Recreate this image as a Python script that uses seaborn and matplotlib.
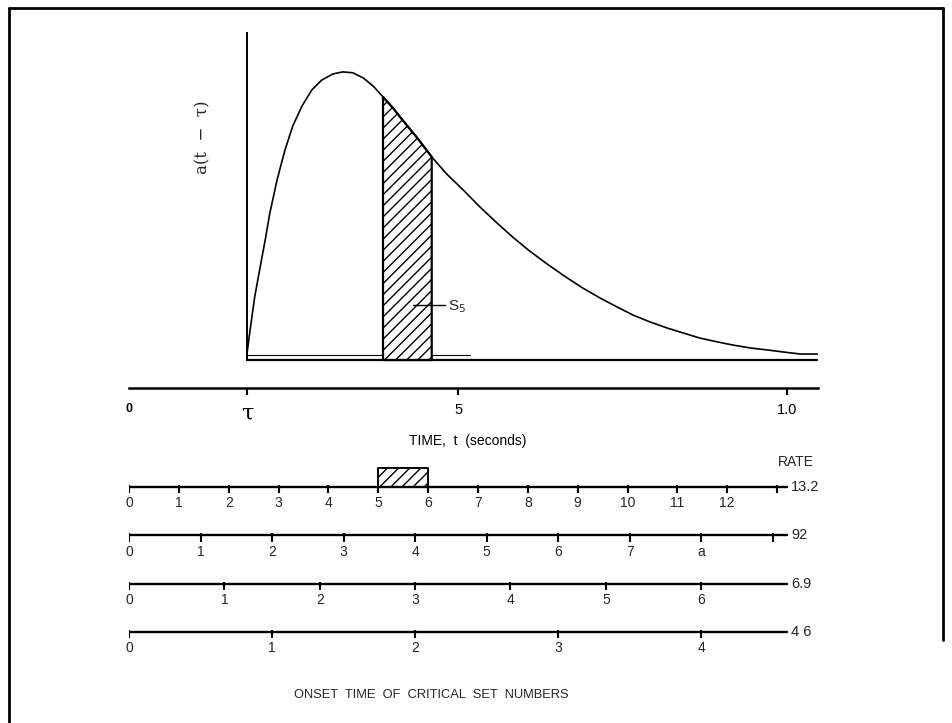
import numpy as np
import matplotlib
matplotlib.use("Agg")
import matplotlib.pyplot as plt
from matplotlib.lines import Line2D
import seaborn as sns

# response curve a(t - tau) (t in seconds, peak = 1)
t_curve = [0.179, 0.184, 0.191, 0.199, 0.207, 0.214, 0.225, 0.237, 0.249, 0.263,
           0.278, 0.293, 0.310, 0.325, 0.340, 0.356, 0.371, 0.386, 0.401, 0.416,
           0.439, 0.460, 0.483, 0.508, 0.533, 0.559, 0.584, 0.609, 0.635, 0.660,
           0.688, 0.716, 0.742, 0.766, 0.792, 0.818, 0.842, 0.868, 0.894, 0.918,
           0.944, 0.970, 0.994, 1.020, 1.046]
a_curve = [0.017, 0.104, 0.219, 0.319, 0.417, 0.510, 0.625, 0.729, 0.813, 0.882,
           0.938, 0.972, 0.993, 1.000, 0.997, 0.979, 0.951, 0.913, 0.875, 0.832,
           0.768, 0.705, 0.645, 0.590, 0.532, 0.476, 0.425, 0.378, 0.334, 0.294,
           0.252, 0.215, 0.184, 0.156, 0.132, 0.111, 0.094, 0.076, 0.063, 0.052,
           0.042, 0.035, 0.028, 0.021, 0.021]

tau = 0.179
s5_window = [0.386, 0.460]
step_level = 0.017
step_end = 0.518

time_ticks = [0, tau, 0.5, 1.0]
time_labels = ["0", "τ", "5", "1.0"]

rates = [13.2, 9.2, 6.9, 4.6]
rate_labels = ["13.2", "92", "6.9", "4 6"]
set_labels = [
    ["0", "1", "2", "3", "4", "5", "6", "7", "8", "9", "10", "11", "12", ""],
    ["0", "1", "2", "3", "4", "5", "6", "7", "a", ""],
    ["0", "1", "2", "3", "4", "5", "6"],
    ["0", "1", "2", "3", "4"],
]
critical_set = 5
scale_end = 1.0

sns.set_theme(style="white")
plt.rcParams["font.family"] = ["Liberation Sans", "DejaVu Sans"]

W, H = 952, 723
fig = plt.figure(figsize=(W / 100, H / 100), dpi=100)
ax = fig.add_axes([129 / W, (H - 388) / H, 689 / W, (388 - 33) / H])
ax_r = fig.add_axes([129 / W, (H - 710) / H, 689 / W, (710 - 440) / H])

t = np.array(t_curve)
a = np.array(a_curve)

# --- top panel: the response curve
sns.lineplot(x=t, y=a, ax=ax, color="black", linewidth=1.2)
ax.plot([tau, t.max()], [0, 0], color="black", lw=1.6)
ax.plot([tau, s5_window[0]], [step_level, step_level], color="black", lw=0.8)
ax.plot([s5_window[1], step_end], [step_level, step_level], color="black", lw=0.8)

m = (t >= s5_window[0]) & (t <= s5_window[1])
ax.fill_between(t[m], 0, a[m], facecolor="white", edgecolor="black",
                hatch="///", linewidth=1.6)

ax.plot([0.432, 0.480], [0.191, 0.191], color="black", lw=1.0)
ax.text(0.485, 0.185, "S$_5$", ha="left", va="center", fontsize=11)

ax.text(0.112, 0.774, "a(t  −  τ)", rotation=90, ha="center", va="center",
        fontsize=12, family="DejaVu Serif")

ax.set_xlim(0, 1.047)
ax.set_ylim(-0.097, 1.135)
ax.set_yticks([])
ax.set_ylabel("")
for s in ["top", "right"]:
    ax.spines[s].set_visible(False)
ax.spines["left"].set_position(("data", tau))
ax.spines["left"].set_bounds(0, 1.135)
ax.spines["left"].set_color("black")
ax.spines["left"].set_linewidth(1.4)
ax.spines["bottom"].set_color("black")
ax.spines["bottom"].set_linewidth(1.8)

ax.set_xticks(time_ticks, time_labels)
ax.tick_params(axis="x", direction="out", length=5, width=1.5, pad=6,
               labelsize=10.5, colors="black", bottom=True)
ax.xaxis.get_major_ticks()[0].tick1line.set_visible(False)
lbls = ax.get_xticklabels()
lbls[0].set_fontsize(9)
lbls[0].set_fontweight("bold")
lbls[1].set_fontsize(16)
lbls[1].set_fontfamily("DejaVu Serif")
ax.set_xlabel("TIME,  t  (seconds)", fontsize=10, color="black")
ax.xaxis.set_label_coords(0.492, -0.13)

# --- bottom panel: onset-time scales for each rate
for i, (rate, labs, rl) in enumerate(zip(rates, set_labels, rate_labels)):
    ticks = np.arange(len(labs)) / rate
    ax_r.plot([0, scale_end], [i, i], color="black", lw=1.7)
    ax_r.vlines(ticks, i - 0.04, i + 0.13, color="black", lw=1.5)
    for x, lab in zip(ticks, labs):
        ax_r.text(x, i + 0.34, lab, ha="center", va="center", fontsize=10)
    ax_r.text(scale_end + 0.006, i, rl, ha="left", va="center", fontsize=10.5)

box_x = [critical_set / rates[0], (critical_set + 1) / rates[0]]
ax_r.fill_between(box_x, 0, -0.39, facecolor="white", edgecolor="black",
                  hatch="///", linewidth=1.4)

ax_r.text(1.04, -0.52, "RATE", ha="right", va="center", fontsize=10)
ax_r.text(0.46, 4.3, "ONSET  TIME  OF  CRITICAL  SET  NUMBERS", ha="center",
          va="center", fontsize=9.3)
ax_r.set_xlim(0, 1.047)
ax_r.set_ylim(4.614, -0.972)
ax_r.axis("off")

# page frame
for xs, ys in [([9, 943], [8, 8]), ([9, 9], [8, 723]), ([943, 943], [8, 640])]:
    fig.add_artist(Line2D([x / W for x in xs], [1 - y / H for y in ys],
                          transform=fig.transFigure, color="black", lw=2))

fig.savefig("out.png", dpi=100)
